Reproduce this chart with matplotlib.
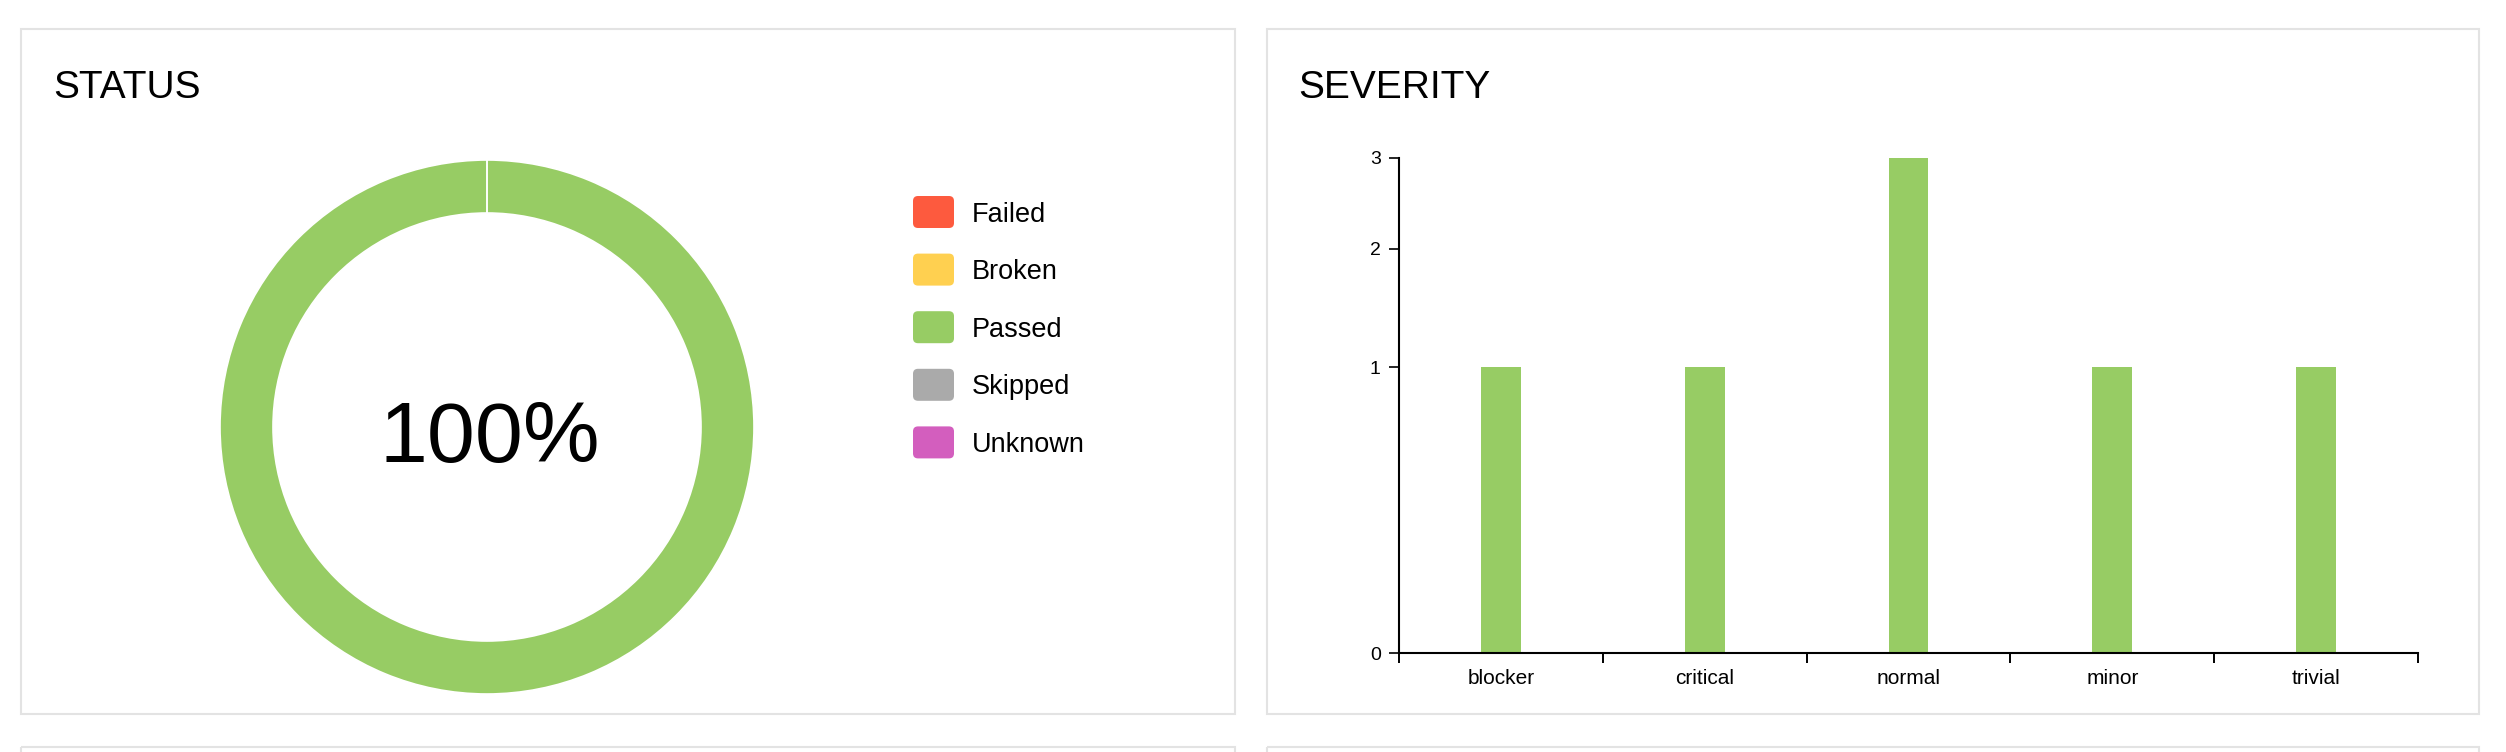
import matplotlib
matplotlib.use("Agg")
import matplotlib.pyplot as plt
import numpy as np
from matplotlib.patches import Rectangle, FancyBboxPatch

plt.rcParams["font.family"] = ["Liberation Sans", "DejaVu Sans"]

status_labels = ["Failed", "Broken", "Passed", "Skipped", "Unknown"]
status_counts = [0, 0, 7, 0, 0]
status_colors = ["#fd5a3e", "#ffd050", "#97cc64", "#aaaaaa", "#d35ebe"]

severity_labels = ["blocker", "critical", "normal", "minor", "trivial"]
severity_counts = [1, 1, 3, 1, 1]
severity_ticks = [0, 1, 2, 3]

W, H = 2506, 752
fig = plt.figure(figsize=(W / 100, H / 100), dpi=100)


def px_axes(x0, y0, x1, y1):
    return fig.add_axes([x0 / W, 1 - y1 / H, (x1 - x0) / W, (y1 - y0) / H])


# background layer in pixel coords (panels, titles, legend)
bg = fig.add_axes([0, 0, 1, 1])
bg.set_xlim(0, W)
bg.set_ylim(H, 0)
bg.axis("off")

border = "#e3e3e3"
for x0, x1 in [(21, 1235), (1267, 2479)]:
    bg.add_patch(Rectangle((x0, 29), x1 - x0, 685, fill=False, ec=border, lw=1.5))
    bg.add_patch(Rectangle((x0, 747), x1 - x0, 300, fill=False, ec=border, lw=1.5))

bg.text(53, 98, "STATUS", fontsize=28, va="baseline", ha="left")
bg.text(1298, 98, "SEVERITY", fontsize=28, va="baseline", ha="left")

# legend
for i, (lab, col) in enumerate(zip(status_labels, status_colors)):
    top = 196 + i * 57.6
    bg.add_patch(FancyBboxPatch((913, top), 41, 32, boxstyle="round,pad=0,rounding_size=5",
                                fc=col, ec="none"))
    bg.text(972, top + 25.5, lab, fontsize=19.5, va="baseline", ha="left")

# donut
cx, cy, R, r = 487, 427, 267, 214
pie_ax = px_axes(cx - R, cy - R, cx + R, cy + R)
pie_ax.pie(status_counts, colors=status_colors, startangle=90, counterclock=False,
           radius=1, wedgeprops=dict(width=(R - r) / R, edgecolor="white", linewidth=1.2))
pie_ax.set_xlim(-1, 1)
pie_ax.set_ylim(-1, 1)
pie_ax.axis("off")
pct = status_counts[2] / sum(status_counts) * 100
pie_ax.text(0.01, -35 / R, f"{pct:.0f}%", fontsize=62, ha="center", va="baseline")

# severity bars
ax = px_axes(1399, 158, 2418, 653)
x = np.arange(len(severity_labels))
ax.bar(x, severity_counts, width=0.196, color="#97cc64")
ax.set_yscale("function", functions=(np.sqrt, lambda v: np.square(v)))
ax.set_ylim(0, 3)
ax.set_xlim(-0.5, len(severity_labels) - 0.5)
ax.set_yticks(severity_ticks)
ax.set_yticklabels([str(t) for t in severity_ticks])
ax.yaxis.set_minor_locator(matplotlib.ticker.NullLocator())
ax.set_xticks(np.arange(-0.5, len(severity_labels), 1))
ax.set_xticklabels([])
ax.set_xticks(x, minor=True)
ax.set_xticklabels(severity_labels, minor=True)
ax.tick_params(axis="x", which="major", length=7.5, width=1.4, color="black")
ax.tick_params(axis="x", which="minor", length=0, pad=11.5, labelsize=15)
ax.tick_params(axis="y", length=7.2, width=1.2, pad=6, labelsize=14)
for s in ["top", "right"]:
    ax.spines[s].set_visible(False)
for s in ["left", "bottom"]:
    ax.spines[s].set_linewidth(1.5)
    ax.spines[s].set_color("black")
ax.set_facecolor("none")

fig.savefig("out.png", dpi=100, facecolor="white")
